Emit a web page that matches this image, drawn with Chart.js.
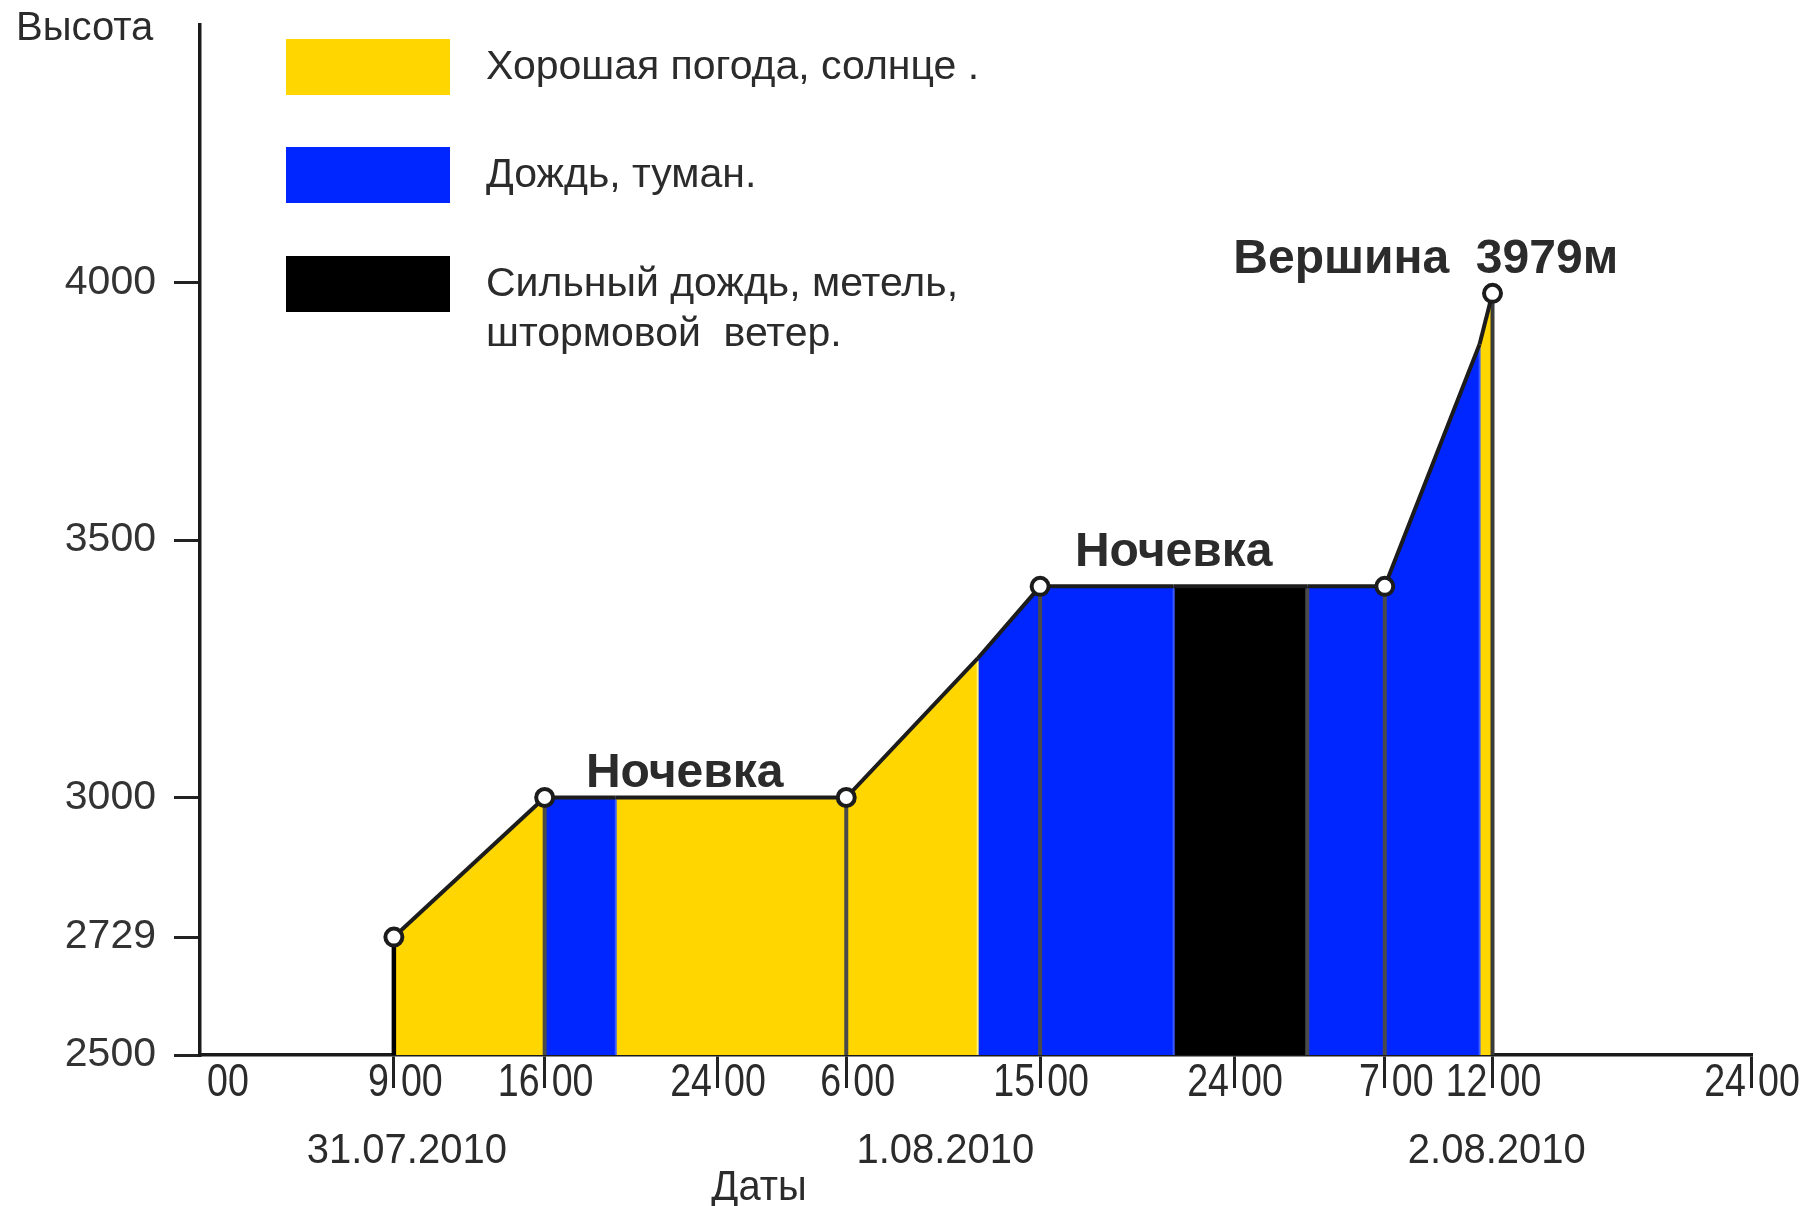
<!DOCTYPE html>
<html lang="ru">
<head>
<meta charset="utf-8">
<title>Высота по датам</title>
<script src="https://cdn.jsdelivr.net/npm/chart.js@4.4.1/dist/chart.umd.min.js"></script>
<style>
  html, body { margin: 0; padding: 0; background: #fff; }
  #wrap { width: 1818px; height: 1206px; }
</style>
</head>
<body>
<div id="wrap"><canvas id="altChart" width="1818" height="1206"></canvas></div>
<script>
// hours counted from 00:00 31.07.2010
const hours    = [9, 16, 19.3, 30, 36.1, 39, 45.2, 51.4, 55, 59.4, 60];
const altitude = [2729, 3000, 3000, 3000, 3270, 3410, 3410, 3410, 3410, 3880, 3979];
// weather on each stretch between two neighbouring points
const weather  = ['sun', 'rain', 'sun', 'sun', 'rain', 'rain', 'storm', 'rain', 'rain', 'sun'];
// points drawn with a circle
const stops    = [9, 16, 30, 39, 55, 60];

const xTicks     = [0, 9, 16, 24, 30, 39, 48, 55, 60, 72];
const xTickHours = ['', '9', '16', '24', '6', '15', '24', '7', '12', '24'];
const yTicks     = [2500, 2729, 3000, 3500, 4000];
const dates      = ['31.07.2010', '1.08.2010', '2.08.2010'];
const legendKeys = ['sun', 'rain', 'storm'];
const legendText = [['Хорошая погода, солнце .'], ['Дождь, туман.'], ['Сильный дождь, метель,', 'штормовой  ветер.']];
const notes      = ['Ночевка', 'Ночевка', 'Вершина  3979м'];

const colors = { sun: '#ffd600', rain: '#0026ff', storm: '#000000' };
const FONT = '"Liberation Sans", Arial, sans-serif';
const INK = '#2b2b2b';

function text(ctx, str, x, y, font, align, sx) {
    ctx.save();
    ctx.font = font;
    ctx.textAlign = align;
    ctx.textBaseline = 'alphabetic';
    ctx.fillStyle = INK;
    ctx.translate(x, y);
    ctx.scale(sx || 1, 1);
    ctx.fillText(str, 0, 0);
    ctx.restore();
}

// vertical lines under the profile
const dividers = [
    { i: 0, color: '#000', width: 4.5 },
    { i: 1, color: '#4a4a4a', width: 4 },
    { i: 2, color: '#3d5cff', width: 2 },
    { i: 3, color: '#4a4a4a', width: 4 },
    { i: 4, color: '#fff27a', width: 2 },
    { i: 5, color: '#4a4a4a', width: 4 },
    { i: 6, color: '#3d5cff', width: 2 },
    { i: 7, color: '#4a4a4a', width: 4 },
    { i: 8, color: '#4a4a4a', width: 4 },
    { i: 9, color: '#3d5cff', width: 2 },
    { i: 10, color: '#3a3a3a', width: 4 }
];

const decor = {
    id: 'decor',
    beforeDatasetDraw(chart, args) {
        if (args.index !== 0) return;
        const { ctx, chartArea, scales: { x, y } } = chart;
        ctx.save();
        dividers.forEach(d => {
            const px = x.getPixelForValue(hours[d.i]);
            ctx.strokeStyle = d.color;
            ctx.lineWidth = d.width;
            ctx.beginPath();
            ctx.moveTo(px, y.getPixelForValue(altitude[d.i]) + 2);
            ctx.lineTo(px, chartArea.bottom);
            ctx.stroke();
        });
        ctx.restore();
    },
    afterDraw(chart) {
        const { ctx, scales: { x, y } } = chart;

        // x tick labels: hour | 00
        xTicks.forEach((v, i) => {
            const px = x.getPixelForValue(v);
            text(ctx, xTickHours[i], px - 5, 1096, '47px ' + FONT, 'right', 0.8);
            text(ctx, '00', px + 7, 1096, '47px ' + FONT, 'left', 0.8);
        });

        // dates under the hours
        const dateAt = [9.6, 34.6, 60.2];
        dates.forEach((d, i) => {
            text(ctx, d, x.getPixelForValue(dateAt[i]), 1163, '43px ' + FONT, 'center', 0.93);
        });
        text(ctx, 'Даты', 759, 1200, '42px ' + FONT, 'center', 0.95);
        text(ctx, 'Высота', 16, 40, '40px ' + FONT, 'left', 1);

        // legend
        const tops = [39, 147, 256];
        legendKeys.forEach((k, i) => {
            ctx.fillStyle = colors[k];
            ctx.fillRect(286, tops[i], 164, 56);
            legendText[i].forEach((line, j) => {
                text(ctx, line, 486, tops[i] + 40 + j * 50, '41px ' + FONT, 'left', 1);
            });
        });

        // notes over the camps and the summit
        const noteAt = [[22.5, altitude[1], 11], [45.2, altitude[6], 20], [56.9, altitude[10], 20]];
        notes.forEach((n, i) => {
            const [h, alt, off] = noteAt[i];
            text(ctx, n, x.getPixelForValue(h), y.getPixelForValue(alt) - off, 'bold 48px ' + FONT, 'center', 1);
        });
    }
};

new Chart(document.getElementById('altChart'), {
    type: 'line',
    data: {
        datasets: [{
            data: hours.map((h, i) => ({ x: h, y: altitude[i] })),
            borderColor: '#1c1c1c',
            borderWidth: 4,
            fill: 'start',
            backgroundColor: colors.sun,
            segment: {
                backgroundColor: c => colors[weather[c.p0DataIndex]]
            },
            tension: 0,
            pointRadius: c => stops.includes(hours[c.dataIndex]) ? 8.5 : 0,
            pointHoverRadius: c => stops.includes(hours[c.dataIndex]) ? 8.5 : 0,
            pointBackgroundColor: '#fff',
            pointBorderColor: '#1c1c1c',
            pointBorderWidth: 4
        }]
    },
    options: {
        responsive: false,
        animation: false,
        events: [],
        layout: { padding: { top: 25, right: 67, left: 0, bottom: 0 } },
        plugins: {
            legend: { display: false },
            tooltip: { enabled: false }
        },
        scales: {
            x: {
                type: 'linear',
                min: 0,
                max: 72,
                afterBuildTicks: s => { s.ticks = xTicks.map(v => ({ value: v })); },
                afterFit: s => { s.height = 151; s.paddingLeft = 0; s.paddingRight = 0; },
                ticks: { display: false },
                grid: {
                    drawOnChartArea: false,
                    tickLength: 33,
                    lineWidth: 3,
                    color: c => c.tick && c.tick.value === 0 ? 'rgba(0,0,0,0)' : '#222'
                },
                border: { color: '#1a1a1a', width: 3.5 }
            },
            y: {
                min: 2500,
                max: 4500,
                afterBuildTicks: s => { s.ticks = yTicks.map(v => ({ value: v })); },
                afterFit: s => { s.width = 200; s.paddingTop = 0; s.paddingBottom = 0; },
                ticks: {
                    color: '#333',
                    font: { family: FONT, size: 41 },
                    padding: 18,
                    callback: v => String(v)
                },
                grid: { drawOnChartArea: false, tickLength: 26, lineWidth: 3, color: '#222' },
                border: { color: '#1a1a1a', width: 3.5 }
            }
        }
    },
    plugins: [decor]
});
</script>
</body>
</html>
